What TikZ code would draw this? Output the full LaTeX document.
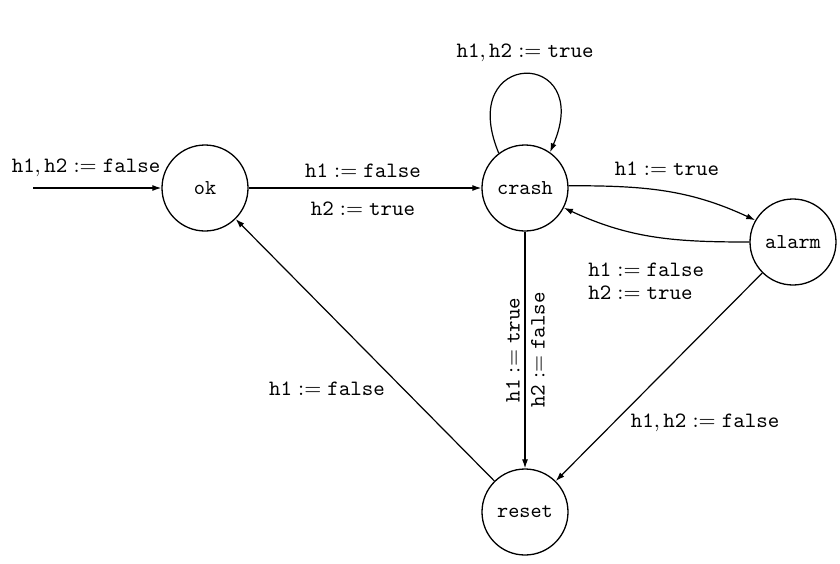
\documentclass[tikz,border=0pt]{standalone}
\usetikzlibrary{arrows.meta}
\begin{document}
\begin{tikzpicture}[x=0.5pt,y=-0.5pt,
  every node/.style={font=\fontsize{10.6}{12.5}\selectfont},
  state/.style={circle,draw,line width=0.65pt,minimum size=43pt,inner sep=0pt,font=\fontsize{10.6}{12.5}\selectfont\ttfamily},
  edge/.style={line width=0.6pt,-{Latex[length=4.5pt,width=3pt]}},
  lbl/.style={inner sep=1pt}]
\useasboundingbox (0,0) rectangle (840,563);
\node[state] (ok) at (205,188) {ok};
\node[state] (crash) at (525,188) {crash};
\node[state] (alarm) at (793,242) {alarm};
\node[state] (reset) at (525,512) {reset};
\coordinate (init) at (33,188);

\draw[edge] (init) -- (ok);
\node[lbl] (linit) at (86,168) {$\mathtt{h1},\mathtt{h2} := \mathtt{false}$};

\draw[edge] (ok) -- (crash);
\node[lbl] (loc1) at (363,171) {$\mathtt{h1} := \mathtt{false}$};
\node[lbl] (loc2) at (363,209) {$\mathtt{h2} := \mathtt{true}$};

\draw[edge] (crash.127) .. controls (455,48) and (595,48) .. (crash.55);
\node[lbl] (lself) at (525,53) {$\mathtt{h1},\mathtt{h2} := \mathtt{true}$};

\draw[edge] (crash.3) to[out=0,in=155] (alarm.150);
\node[lbl] (lca) at (667,169) {$\mathtt{h1} := \mathtt{true}$};

\draw[edge] (alarm.180) to[out=180,in=-25] (crash.-27);
\node[lbl,anchor=west] (lac1) at (586,270) {$\mathtt{h1} := \mathtt{false}$};
\node[lbl,anchor=west] (lac2) at (586,293) {$\mathtt{h2} := \mathtt{true}$};

\draw[edge] (crash) -- (reset);
\node[lbl,rotate=90] (lcr1) at (513,350) {$\mathtt{h1} := \mathtt{true}$};
\node[lbl,rotate=90] (lcr2) at (538,350) {$\mathtt{h2} := \mathtt{false}$};

\draw[edge] (alarm) -- (reset);
\node[lbl] (lar) at (705,423) {$\mathtt{h1},\mathtt{h2} := \mathtt{false}$};

\draw[edge] (reset) -- (ok);
\node[lbl] (lro) at (327,389) {$\mathtt{h1} := \mathtt{false}$};
\end{tikzpicture}
\end{document}
